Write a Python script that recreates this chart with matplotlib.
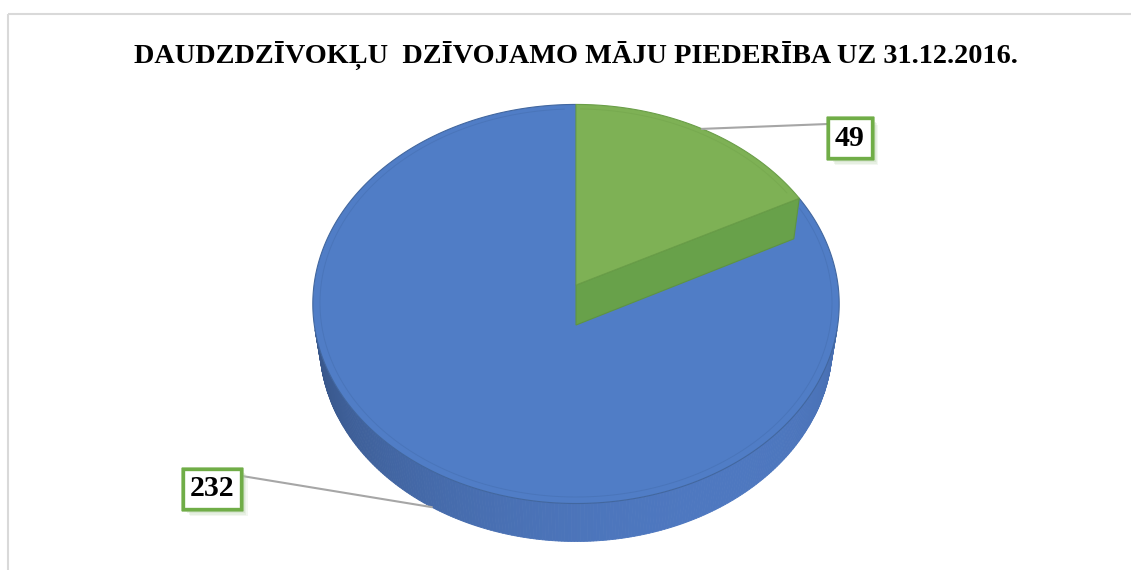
import numpy as np
import matplotlib
matplotlib.use('Agg')
import matplotlib.pyplot as plt
from matplotlib.patches import Polygon, Rectangle
import matplotlib.patheffects as pe

# data
labels = ['49', '232']
values = [49, 232]
colors_top = ['#7EB155', '#507DC6']
title = 'DAUDZDZĪVOKĻU  DZĪVOJAMO MĀJU PIEDERĪBA UZ 31.12.2016.'

W, H = 1131, 570
fig = plt.figure(figsize=(W / 100, H / 100), dpi=100)
ax = fig.add_axes([0, 0, 1, 1])
ax.set_xlim(0, W)
ax.set_ylim(H, 0)
ax.axis('off')

# chart area border (light grey, runs off the right/bottom edge)
ax.add_patch(Rectangle((8, 14), W + 20, H + 20, fill=False, ec='#D9D9D9', lw=1.5, zorder=0))

# perspective camera for the 3d pie
cx, cy = 576, 285
phi = np.radians(49)
L = 6.9
F = 262 * L
h = 0.239


def proj(t, r, z):
    x = r * np.cos(t)
    y = r * np.sin(t)
    d = L + y * np.cos(phi) - z * np.sin(phi)
    return cx + F * x / d, cy - F * (y * np.sin(phi) + z * np.cos(phi)) / d


# slice angles: start at 12 o'clock, clockwise
total = float(sum(values))
start = np.pi / 2
angles = []
for v in values:
    end = start - 2 * np.pi * v / total
    angles.append((start, end))
    start = end

# side wall of the big (blue) slice, only the part facing the camera
vis = np.arcsin(-1 / (L * np.cos(phi)))
t_side = np.linspace(np.pi - vis, 2 * np.pi + vis, 240)
base = np.array([78, 120, 192]) / 255.
for i in range(len(t_side) - 1):
    ta, tb = t_side[i], t_side[i + 1]
    tm = 0.5 * (ta + tb)
    lam = 0.5 + 0.5 * np.cos(tm - np.radians(300))
    c = np.clip(base * (0.55 + 0.45 * lam), 0, 1)
    p1 = proj(ta, 1, 0); p2 = proj(tb, 1, 0)
    p3 = proj(tb, 1, -h); p4 = proj(ta, 1, -h)
    ax.add_patch(Polygon([p1, p2, p3, p4], closed=True, fc=c, ec=c, lw=0.6, zorder=1))

# blue top
s0, s1 = angles[1]
tt = np.linspace(s0, s1, 400)
pts = [proj(0, 0, 0)] + [proj(t, 1, 0) for t in tt]
ax.add_patch(Polygon(pts, closed=True, fc=colors_top[1], ec='#42679F', lw=0.8, zorder=2))
# bevel line
tb_ = np.linspace(s0 - 0.05, s1 + 0.05, 400)
bx, by = zip(*[proj(t, 0.973, 0) for t in tb_])
ax.plot(bx, by, color='#4670B2', lw=0.7, alpha=0.6, zorder=3)

# green radial wall and top
g0, g1 = angles[0]
wall = [proj(g1, 0, 0), proj(g1, 1, 0), proj(g1, 1, -h), proj(g1, 0, -h)]
ax.add_patch(Polygon(wall, closed=True, fc='#68A14A', ec='#5E9343', lw=0.8, zorder=4))
tt = np.linspace(g0, g1, 200)
pts = [proj(0, 0, 0)] + [proj(t, 1, 0) for t in tt]
ax.add_patch(Polygon(pts, closed=True, fc=colors_top[0], ec='#6A9E48', lw=0.8, zorder=5))
tb_ = np.linspace(g0 - 0.02, g1 + 0.05, 200)
bx, by = zip(*[proj(t, 0.973, 0) for t in tb_])
ax.plot(bx, by, color='#74A64D', lw=0.7, alpha=0.6, zorder=6)

# title
ax.text(576, 55, title, ha='center', va='center', fontsize=20.3, fontweight='bold',
        family='Liberation Serif', color='black')

# data labels with leader lines
shadow = [pe.withSimplePatchShadow(offset=(o, -o), shadow_rgbFace='#B5CFA6', alpha=a)
          for o, a in [(5, 0.15), (4, 0.2), (3, 0.25), (2, 0.3)]] + [pe.Normal()]

# 49: leader to middle of green arc on top face
gm = 0.5 * (g0 + g1)
px, py = proj(gm, 1, 0)
ax.plot([px, 828], [py, 124], color='#A6A6A6', lw=1.5, zorder=7)
t1 = ax.text(850, 138, labels[0], ha='center', va='center', fontsize=21.5, fontweight='bold',
             family='Liberation Serif', zorder=8,
             bbox=dict(boxstyle='square,pad=0.22', fc='white', ec='#70AD47', lw=2.4))
t1.get_bbox_patch().set_path_effects(shadow)

# 232: leader to bottom of the side wall under middle of the blue arc
bm = 0.5 * (s0 + s1)
px, py = proj(bm, 1, -h)
ax.plot([px, 242], [py, 476], color='#A6A6A6', lw=1.5, zorder=7)
t2 = ax.text(212, 489, labels[1], ha='center', va='center', fontsize=21.5, fontweight='bold',
             family='Liberation Serif', zorder=8,
             bbox=dict(boxstyle='square,pad=0.22', fc='white', ec='#70AD47', lw=2.4))
t2.get_bbox_patch().set_path_effects(shadow)

fig.savefig('out.png', dpi=100)
